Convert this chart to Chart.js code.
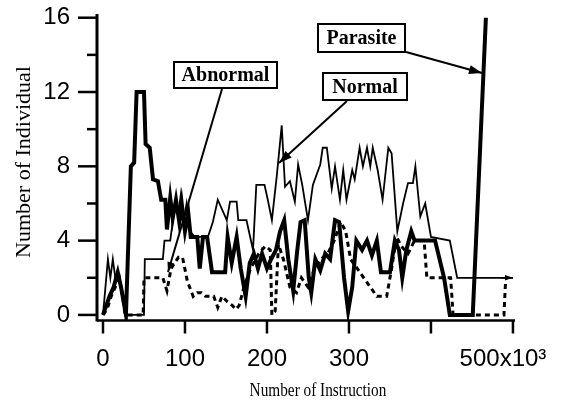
<!DOCTYPE html>
<html>
<head>
<meta charset="utf-8">
<script src="https://cdn.jsdelivr.net/npm/chart.js@4"></script>
<style>
  html, body { margin: 0; padding: 0; background: #fff; }
  canvas { display: block; }
</style>
</head>
<body>
<canvas id="chart" width="572" height="405"></canvas>
<script>
// x in thousands of instructions, y = number of individuals
const xTicks = [0, 100, 200, 300, 400, 500]
const yTicks = [0, 2, 4, 6, 8, 10, 12, 14, 16]

const parasite = [
  [0, 0], [4, 0.5], [8, 1], [13, 1.5], [18, 2.3], [22, 1.5], [26, 0.5], [28, 0],
  [34, 8], [38, 8.2], [41, 12], [50, 12], [52, 9.2], [57, 9], [61, 7.3], [67, 7.2],
  [71, 6.2], [76, 6.2], [78, 4.6], [82, 6.3], [85, 5.2], [89, 6.2], [93, 5], [96, 6],
  [100, 4.5], [104, 5.5], [107, 4.2], [115, 4.2], [118, 2.5], [122, 4.2], [127, 4.2],
  [133, 2.3], [149, 2.3], [152, 4.2], [157, 2.8], [163, 4.2], [168, 2.5], [174, 1],
  [179, 2.8], [184, 3.3], [189, 2.5], [194, 3.3], [200, 2.5], [205, 3], [211, 3.5],
  [216, 4.5], [221, 5.1], [226, 3], [232, 1.3], [237, 3.5], [241, 5], [246, 5.1],
  [251, 2], [254, 1.2], [259, 3], [265, 2.4], [271, 3.3], [277, 3], [283, 5.1],
  [288, 5], [294, 2], [299, 0.2], [304, 1.5], [309, 4], [316, 3.5], [322, 4],
  [328, 3.2], [334, 4], [339, 2.3], [350, 2.3], [356, 4], [361, 3.5], [365, 2],
  [370, 3.5], [376, 4.5], [380, 4], [405, 4], [416, 2], [423, 0], [451, 0],
  [460, 9], [467, 16]
]

const normal = [
  [0, 0], [3, 1.5], [6, 3], [9, 2], [12, 3], [15, 2], [20, 2], [24, 1], [27, 0],
  [50, 0], [51, 3], [73, 3], [75, 4], [82, 4], [88, 6], [92, 5.5], [95, 6.5],
  [98, 5], [102, 6], [106, 4.5], [112, 4.2], [128, 4.2], [134, 5], [140, 6.2],
  [151, 5.1], [155, 6.1], [163, 6.1], [165, 5.1], [175, 5.1], [183, 3.5], [187, 7],
  [197, 7], [201, 6.2], [206, 5.1], [212, 7.5], [218, 10.2], [222, 6.9], [228, 7.2],
  [234, 6.1], [238, 8.1], [243, 7], [250, 5.1], [256, 7], [265, 8.1], [268, 9],
  [273, 9], [279, 6.8], [283, 8], [289, 6.2], [293, 7.8], [297, 6.2], [304, 7.8],
  [307, 7.3], [313, 9], [317, 8], [322, 9], [326, 8], [329, 9], [335, 7.8],
  [341, 6.2], [348, 9], [352, 8.7], [359, 4.5], [366, 6], [372, 7.1], [378, 7.1],
  [381, 8], [387, 5.3], [393, 6], [400, 4.2], [423, 4], [432, 2], [500, 2]
]

const abnormal = [
  [0, 0], [5, 0.3], [10, 1], [15, 1.5], [20, 2], [24, 1], [27, 0], [49, 0], [50, 2],
  [73, 2], [78, 1.3], [83, 2.5], [92, 3.1], [97, 3.1], [103, 1.8], [110, 1],
  [115, 1.2], [120, 1.2], [125, 1], [135, 1], [140, 0.4], [145, 1], [152, 0.7],
  [158, 0.5], [162, 0.3], [166, 0.5], [172, 1.5], [180, 2.5], [190, 3.3], [198, 3.7],
  [204, 3.5], [206, 0], [210, 0.2], [214, 3.8], [220, 3], [228, 1.5], [236, 1.2],
  [242, 2], [250, 1.5], [258, 2.5], [266, 3], [274, 3.3], [282, 4], [290, 5],
  [296, 4.5], [302, 3], [310, 2.5], [318, 2], [326, 1.5], [334, 1], [346, 1],
  [352, 2.5], [358, 4.2], [364, 3.7], [372, 3.3], [380, 4], [388, 4], [392, 3.8],
  [395, 2], [424, 2], [427, 0], [489, 0], [491, 1.8]
]

const toPoints = arr => arr.map(p => ({ x: p[0], y: p[1] }))

function arrow(ctx, x1, y1, x2, y2, head) {
  ctx.beginPath()
  ctx.moveTo(x1, y1)
  ctx.lineTo(x2, y2)
  ctx.stroke()
  const a = Math.atan2(y2 - y1, x2 - x1)
  ctx.beginPath()
  ctx.moveTo(x2, y2)
  ctx.lineTo(x2 - head * Math.cos(a) + head * 0.35 * Math.sin(a), y2 - head * Math.sin(a) - head * 0.35 * Math.cos(a))
  ctx.lineTo(x2 - head * Math.cos(a) - head * 0.35 * Math.sin(a), y2 - head * Math.sin(a) + head * 0.35 * Math.cos(a))
  ctx.closePath()
  ctx.fill()
}

function labelBox(ctx, text, x1, y1, x2, y2) {
  ctx.fillStyle = '#fff'
  ctx.fillRect(x1, y1, x2 - x1, y2 - y1)
  ctx.strokeStyle = '#000'
  ctx.lineWidth = 2
  ctx.strokeRect(x1, y1, x2 - x1, y2 - y1)
  ctx.fillStyle = '#000'
  ctx.font = 'bold 20px "Liberation Serif"'
  ctx.textAlign = 'center'
  ctx.textBaseline = 'middle'
  ctx.fillText(text, (x1 + x2) / 2, (y1 + y2) / 2 + 1)
}

const decorations = {
  id: 'decorations',
  afterDraw(chart) {
    const ctx = chart.ctx
    const xs = chart.scales.x
    const ys = chart.scales.y
    const area = chart.chartArea
    ctx.save()
    ctx.strokeStyle = '#000'
    ctx.fillStyle = '#000'
    ctx.lineCap = 'butt'

    // axis lines
    ctx.lineWidth = 3
    ctx.beginPath()
    ctx.moveTo(area.left, area.top)
    ctx.lineTo(area.left, area.bottom + 1)
    ctx.stroke()
    ctx.lineWidth = 2.5
    ctx.beginPath()
    ctx.moveTo(area.left, area.bottom)
    ctx.lineTo(area.right, area.bottom)
    ctx.stroke()

    // y ticks: long at labelled values, short in between
    ctx.lineWidth = 2.5
    yTicks.forEach(v => {
      const py = ys.getPixelForValue(v)
      const len = v % 4 === 0 ? 19 : 10
      ctx.beginPath()
      ctx.moveTo(area.left - len, py)
      ctx.lineTo(area.left, py)
      ctx.stroke()
    })
    // x ticks point down
    xTicks.forEach(v => {
      const px = xs.getPixelForValue(v)
      ctx.beginPath()
      ctx.moveTo(px, area.bottom)
      ctx.lineTo(px, area.bottom + 13)
      ctx.stroke()
    })

    // small arrow head at the end of the normal line
    const last = normal[normal.length - 1]
    const ex = xs.getPixelForValue(last[0])
    const ey = ys.getPixelForValue(last[1])
    ctx.lineWidth = 1.5
    arrow(ctx, ex - 12, ey, ex, ey, 8)

    // axis titles
    ctx.font = '22px "Liberation Serif"'
    ctx.textAlign = 'center'
    ctx.textBaseline = 'middle'
    ctx.save()
    ctx.translate(24, 162)
    ctx.rotate(-Math.PI / 2)
    ctx.fillText('Number of Individual', 0, 0)
    ctx.restore()
    ctx.save()
    ctx.translate(318, 396)
    ctx.scale(0.85, 1)
    ctx.font = '18px "Liberation Serif"'
    ctx.textBaseline = 'alphabetic'
    ctx.fillText('Number of Instruction', 0, 0)
    ctx.restore()

    // callouts
    ctx.lineWidth = 2
    arrow(ctx, 406, 52, 482, 73, 13)
    arrow(ctx, 347, 101, 279, 163, 13)
    arrow(ctx, 222, 89, 168, 272, 10)
    labelBox(ctx, 'Parasite', 318, 24, 405, 52)
    labelBox(ctx, 'Abnormal', 174, 62, 277, 88)
    labelBox(ctx, 'Normal', 323, 73, 407, 100)
    ctx.restore()
  }
}

new Chart(document.getElementById('chart'), {
  type: 'line',
  data: {
    datasets: [
      {
        label: 'Normal',
        data: toPoints(normal),
        borderColor: '#000',
        borderWidth: 1.8,
        pointRadius: 0
      },
      {
        label: 'Abnormal',
        data: toPoints(abnormal),
        borderColor: '#000',
        borderWidth: 3,
        borderDash: [5, 4],
        pointRadius: 0
      },
      {
        label: 'Parasite',
        data: toPoints(parasite),
        borderColor: '#000',
        borderWidth: 4,
        pointRadius: 0
      }
    ]
  },
  options: {
    responsive: false,
    animation: false,
    devicePixelRatio: 1,
    layout: { padding: { top: 14, right: 57, left: 0, bottom: 0 } },
    plugins: {
      legend: { display: false },
      tooltip: { enabled: false }
    },
    scales: {
      x: {
        type: 'linear',
        min: -7.3,
        max: 502.5,
        afterFit: s => {
          s.height = 84.5
          s.paddingLeft = 0
          s.paddingRight = 0
        },
        afterBuildTicks: s => { s.ticks = xTicks.map(v => ({ value: v })) },
        grid: { display: false, drawTicks: false },
        border: { display: false },
        ticks: {
          autoSkip: false,
          maxRotation: 0,
          padding: 24,
          color: '#000',
          font: { family: '"Liberation Sans"', size: 24 },
          // the last label is shifted left with trailing spaces, as in the figure
          callback: v => v === 400 ? '' : (v === 500 ? '500x10\u00b3   ' : String(v))
        }
      },
      y: {
        min: -0.3,
        max: 16.2,
        afterFit: s => {
          s.width = 97
          s.paddingTop = 0
          s.paddingBottom = 0
        },
        afterBuildTicks: s => { s.ticks = yTicks.map(v => ({ value: v })) },
        grid: { display: false, drawTicks: false },
        border: { display: false },
        ticks: {
          padding: 27,
          color: '#000',
          font: { family: '"Liberation Sans"', size: 24 },
          callback: v => v % 4 === 0 ? String(v) : ''
        }
      }
    }
  },
  plugins: [decorations]
})
</script>
</body>
</html>
